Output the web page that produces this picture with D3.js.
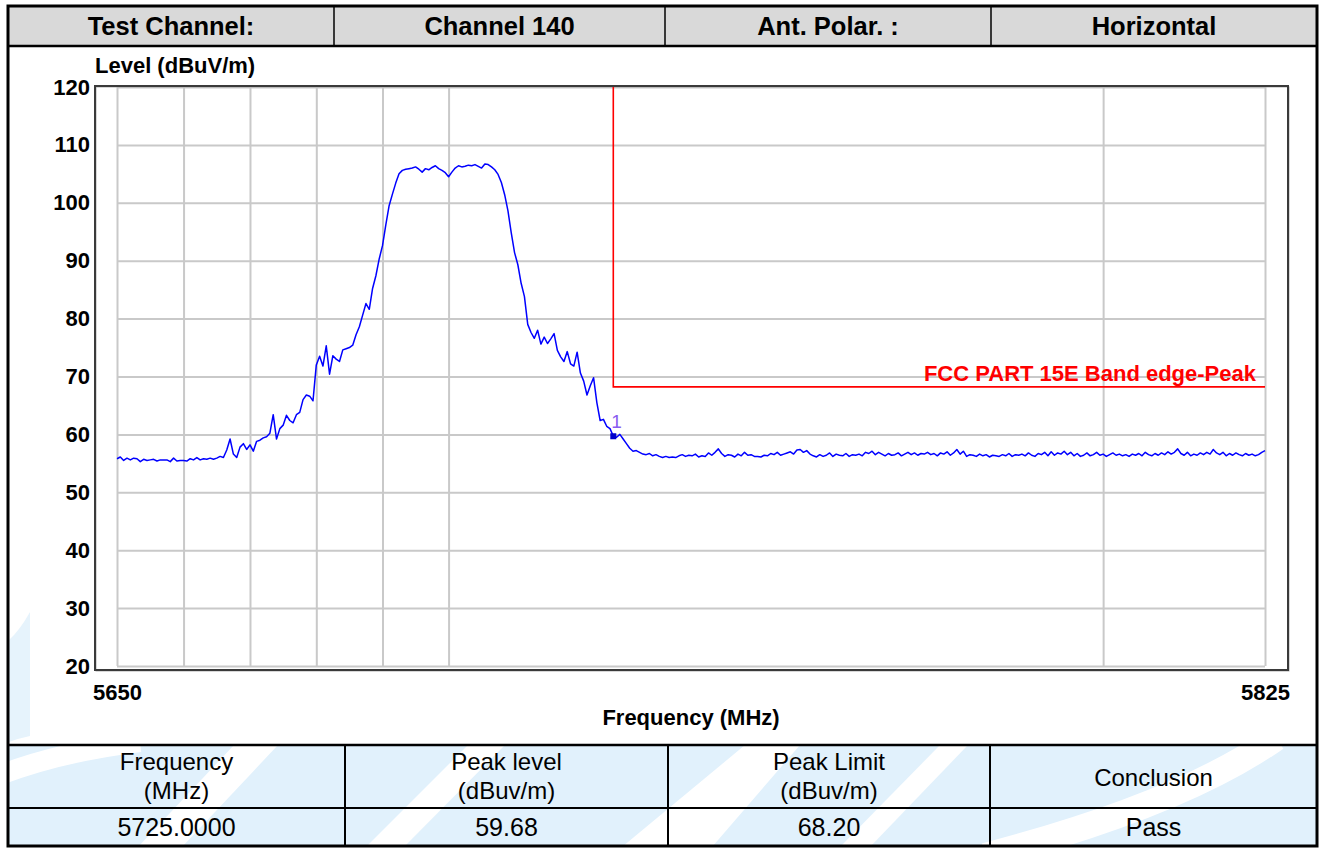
<!DOCTYPE html>
<html><head><meta charset="utf-8">
<script src="https://cdn.jsdelivr.net/npm/d3@7"></script>
<style>
html,body{margin:0;padding:0;background:#fff;}
svg{display:block;}
text{font-family:"Liberation Sans",Arial,sans-serif;}
</style></head><body>
<svg id="c" width="1325" height="848"></svg>
<script>
// ---------- data ----------
const headerCells = ["Test Channel:", "Channel 140", "Ant. Polar. :", "Horizontal"];
const resultHeader = [["Frequency","(MHz)"],["Peak level","(dBuv/m)"],["Peak Limit","(dBuv/m)"],["Conclusion"]];
const resultRow = ["5725.0000","59.68","68.20","Pass"];
const yTicks = [20,30,40,50,60,70,80,90,100,110,120];
const xTickLabels = [5650, 5825];
const xGrid = [5650,5660,5670,5680,5690,5700,5800,5825];
const yTitle = "Level (dBuV/m)";
const xTitle = "Frequency (MHz)";
const sweepStart = 5650, sweepStep = 0.5;   // analyser sweep points (MHz)
const level = [
 55.8,56.1,55.5,55.9,55.6,55.9,55.8,55.3,55.7,55.5, // 5650
 55.6,55.7,55.4,55.6,55.6,55.6,55.3,55.9,55.4,55.5, // 5655
 55.5,55.4,55.8,55.6,56.0,55.6,55.8,55.7,55.9,55.7, // 5660
 55.9,56.2,56.0,57.3,59.2,56.6,56.0,57.8,58.4,57.4, // 5665
 58.2,57.1,58.8,59.0,59.4,59.6,60.2,63.4,59.2,61.0, // 5670
 61.6,63.3,62.4,62.0,63.4,63.8,66.0,66.8,66.6,65.8, // 5675
 72.0,73.5,71.8,75.3,70.4,73.6,73.0,72.6,74.6,74.8, // 5680
 75.0,75.4,77.2,78.6,80.6,82.6,81.6,85.2,87.4,90.3, // 5685
 92.6,96.2,99.5,101.5,103.4,105.0,105.6,105.8,105.9,106.0, // 5690
 106.2,105.8,105.3,105.9,105.7,106.1,106.4,105.9,105.6,105.2, // 5695
 104.5,105.3,106.0,106.4,106.2,106.3,106.5,106.4,106.6,106.3, // 5700
 106.0,106.7,106.6,106.2,105.7,104.9,103.5,101.4,98.6,94.8, // 5705
 91.4,89.3,86.1,83.8,79.0,77.6,76.6,78.0,75.6,76.8, // 5710
 75.7,76.5,77.4,74.5,73.4,72.6,74.3,72.2,71.8,74.2, // 5715
 70.6,69.2,66.8,68.4,69.8,65.5,62.4,62.6,61.4,61.0, // 5720
 59.7,59.5,60.0,59.2,58.4,57.6,57.1,57.2,56.9,56.6, // 5725
 56.5,56.7,56.3,56.5,56.2,56.0,56.2,56.0,56.1,56.0, // 5730
 56.3,56.5,56.2,56.4,56.3,56.6,56.1,56.3,56.2,56.8, // 5735
 56.4,56.9,57.5,56.7,56.2,56.5,56.4,56.1,56.6,56.3, // 5740
 56.9,56.4,56.5,56.2,56.2,56.1,56.4,56.3,56.7,56.5, // 5745
 56.9,56.4,56.6,56.8,57.0,56.6,57.3,57.4,56.9,57.2, // 5750
 56.6,56.3,56.1,56.5,56.2,56.4,56.8,56.2,56.6,56.4, // 5755
 56.3,56.7,56.2,56.5,56.4,56.6,56.3,56.9,56.7,57.1, // 5760
 56.5,56.9,56.6,56.3,56.7,56.4,56.5,56.8,56.3,56.6, // 5765
 56.9,56.5,56.8,56.4,56.7,56.6,56.9,56.5,56.7,56.3, // 5770
 56.8,56.6,57.0,56.4,56.8,57.4,56.6,57.1,56.2,56.5, // 5775
 56.4,56.2,56.6,56.3,56.5,56.1,56.4,56.3,56.2,56.5, // 5780
 56.3,56.7,56.2,56.5,56.4,56.6,56.3,56.8,56.4,56.2, // 5785
 56.7,56.5,56.9,56.3,57.0,56.4,56.8,56.6,57.1,56.5, // 5790
 56.9,56.3,56.7,56.2,56.4,56.8,56.3,56.5,56.9,56.4, // 5795
 56.6,56.2,56.5,56.8,56.4,56.6,56.3,56.5,56.2,56.6, // 5800
 56.4,56.7,56.3,56.9,56.5,56.3,56.7,56.4,56.8,56.5, // 5805
 57.0,56.6,56.9,57.5,56.7,56.4,56.9,56.3,56.6,56.4, // 5810
 56.8,56.5,56.9,56.6,57.4,56.8,56.5,56.9,56.3,56.7, // 5815
 56.4,56.8,56.5,56.3,56.7,56.4,56.6,56.3,56.5,56.9, // 5820
 57.2 // 5825
];
const limitFreq = [5725, 5725, 5825];
const limitLevel = [120, 68.2, 68.2];
const limitLabel = "FCC PART 15E Band edge-Peak";
const markerFreq = 5725, markerLevel = 59.68, markerLabel = "1";

// ---------- drawing ----------
const svg = d3.select("#c");
const L = 8, R = 1317, T = 6, B = 846;
const headRowB = 46, tableTop = 745, tableMid = 808;
const headCols = [L, 334, 665, 991, R];
const tabCols = [L, 345, 668, 990, R];

const x = d3.scaleLog().domain([5650, 5825]).range([117, 1265]);
const y = d3.scaleLinear().domain([20, 120]).range([666, 87]);

// watermark (light blue logo) behind results table
const wm = svg.append("g");
wm.append("rect").attr("x", L).attr("y", tableTop).attr("width", R - L).attr("height", B - tableTop).attr("fill", "#e1f1fc");
wm.append("path").attr("d", "M9,640 Q20,630 30,612 L30,736 Q20,738 9,742 Z").attr("fill", "#e6f3fc");
const bands = [
  "M138,847 L182,847 L278,745 L234,745 Z",
  "M366,847 L404,847 L505,745 L468,745 Z",
  "M622,847 L712,847 L800,745 L745,745 Z",
  "M840,847 L870,847 L968,745 L940,745 Z"
];
wm.selectAll("path.band").data(bands).join("path").attr("class", "band").attr("d", d => d).attr("fill", "#ffffff");
wm.append("path").attr("d", "M985,856 Q1180,805 1276,738").attr("fill", "none").attr("stroke", "#fff").attr("stroke-width", 26);
wm.append("path").attr("d", "M0,775 Q60,752 140,742").attr("fill", "none").attr("stroke", "#fff").attr("stroke-width", 20);

// header row
svg.append("rect").attr("x", L).attr("y", T).attr("width", R - L).attr("height", headRowB - T).attr("fill", "#d9d9d9");
svg.selectAll("text.hd").data(headerCells).join("text").attr("class", "hd")
  .attr("x", (d, i) => (headCols[i] + headCols[i + 1]) / 2).attr("y", 35)
  .attr("text-anchor", "middle").attr("font-size", 25.5).attr("font-weight", "bold").attr("fill", "#000").text(d => d);
headCols.slice(1, 4).forEach(cx => svg.append("line").attr("x1", cx).attr("x2", cx).attr("y1", T).attr("y2", headRowB).attr("stroke", "#000").attr("stroke-width", 1.5));
svg.append("line").attr("x1", L).attr("x2", R).attr("y1", headRowB).attr("y2", headRowB).attr("stroke", "#000").attr("stroke-width", 2.5);

// grid
const gw = x(5825) - x(5650), gh = y(20) - y(120);
svg.append("g").attr("transform", `translate(${x(5650)},0)`)
  .call(d3.axisLeft(y).tickValues(yTicks).tickSize(-gw).tickFormat(""))
  .call(g => g.select(".domain").remove())
  .call(g => g.selectAll(".tick line").attr("stroke", "#c9c9c9").attr("stroke-width", 2));
svg.append("g").attr("transform", `translate(0,${y(20)})`)
  .call(d3.axisBottom(x).tickValues(xGrid).tickSize(-gh).tickFormat(""))
  .call(g => g.select(".domain").remove())
  .call(g => g.selectAll(".tick line").attr("stroke", "#c9c9c9").attr("stroke-width", 2));

// frame
svg.append("rect").attr("x", 96).attr("y", 87).attr("width", 1193).attr("height", 584).attr("fill", "none").attr("stroke", "#b0b0b0").attr("stroke-width", 1);
svg.append("rect").attr("x", 95).attr("y", 86).attr("width", 1193).attr("height", 584).attr("fill", "none").attr("stroke", "#3a3a3a").attr("stroke-width", 2);

// axis labels
svg.append("g").attr("transform", `translate(${x(5650)},0)`)
  .call(d3.axisLeft(y).tickValues(yTicks).tickSize(0).tickPadding(27).tickFormat(d3.format("d")))
  .call(g => g.select(".domain").remove())
  .call(g => g.selectAll("text").attr("font-size", 22).attr("font-weight", "bold").attr("fill", "#000").attr("font-family", "Liberation Sans, Arial, sans-serif"));
svg.append("g").attr("transform", `translate(0,${y(20)})`)
  .call(d3.axisBottom(x).tickValues(xTickLabels).tickSize(0).tickPadding(18).tickFormat(d3.format("d")))
  .call(g => g.select(".domain").remove())
  .call(g => g.selectAll("text").attr("font-size", 22).attr("font-weight", "bold").attr("fill", "#000").attr("font-family", "Liberation Sans, Arial, sans-serif"));
svg.append("text").attr("x", 95).attr("y", 73).attr("font-size", 22).attr("font-weight", "bold").text(yTitle);
svg.append("text").attr("x", 691).attr("y", 725).attr("text-anchor", "middle").attr("font-size", 22).attr("font-weight", "bold").text(xTitle);

// limit line
const lim = limitFreq.map((f, i) => [f, limitLevel[i]]);
svg.append("path").datum(lim).attr("d", d3.line().x(d => x(d[0])).y(d => y(d[1])))
  .attr("fill", "none").attr("stroke", "#ff0000").attr("stroke-width", 1.6);
svg.append("text").attr("x", 1256).attr("y", y(68.2) - 6).attr("text-anchor", "end")
  .attr("font-size", 22).attr("font-weight", "bold").attr("fill", "#ff0000").text(limitLabel);

// trace
const pts = level.map((v, i) => [sweepStart + i * sweepStep, v]);
svg.append("path").datum(pts).attr("d", d3.line().x(d => x(d[0])).y(d => y(d[1])))
  .attr("fill", "none").attr("stroke", "#0000ff").attr("stroke-width", 1.5).attr("stroke-linejoin", "round");

// marker
svg.append("rect").attr("x", x(markerFreq) - 3).attr("y", y(markerLevel) - 3).attr("width", 6).attr("height", 6).attr("fill", "#0000cc");
svg.append("text").attr("x", x(markerFreq) - 2).attr("y", y(markerLevel) - 8).attr("font-size", 19)
  .attr("fill", "#8a5cf0").text(markerLabel);

// results table
tabCols.slice(1, 4).forEach(cx => svg.append("line").attr("x1", cx).attr("x2", cx).attr("y1", tableTop).attr("y2", B).attr("stroke", "#000").attr("stroke-width", 2));
svg.append("line").attr("x1", L).attr("x2", R).attr("y1", tableTop).attr("y2", tableTop).attr("stroke", "#000").attr("stroke-width", 2.5);
svg.append("line").attr("x1", L).attr("x2", R).attr("y1", tableMid).attr("y2", tableMid).attr("stroke", "#000").attr("stroke-width", 2);
resultHeader.forEach((lines, i) => {
  const cx = (tabCols[i] + tabCols[i + 1]) / 2;
  const ys = lines.length === 2 ? [770, 799] : [786];
  lines.forEach((t, j) => svg.append("text").attr("x", cx).attr("y", ys[j]).attr("text-anchor", "middle")
    .attr("font-size", 24).attr("fill", "#000").text(t));
});
resultRow.forEach((t, i) => svg.append("text").attr("x", (tabCols[i] + tabCols[i + 1]) / 2).attr("y", 836)
  .attr("text-anchor", "middle").attr("font-size", 25).attr("fill", "#000").text(t));

// outer border
svg.append("rect").attr("x", L).attr("y", T).attr("width", R - L).attr("height", B - T).attr("fill", "none").attr("stroke", "#000").attr("stroke-width", 3);
</script>
</body></html>
